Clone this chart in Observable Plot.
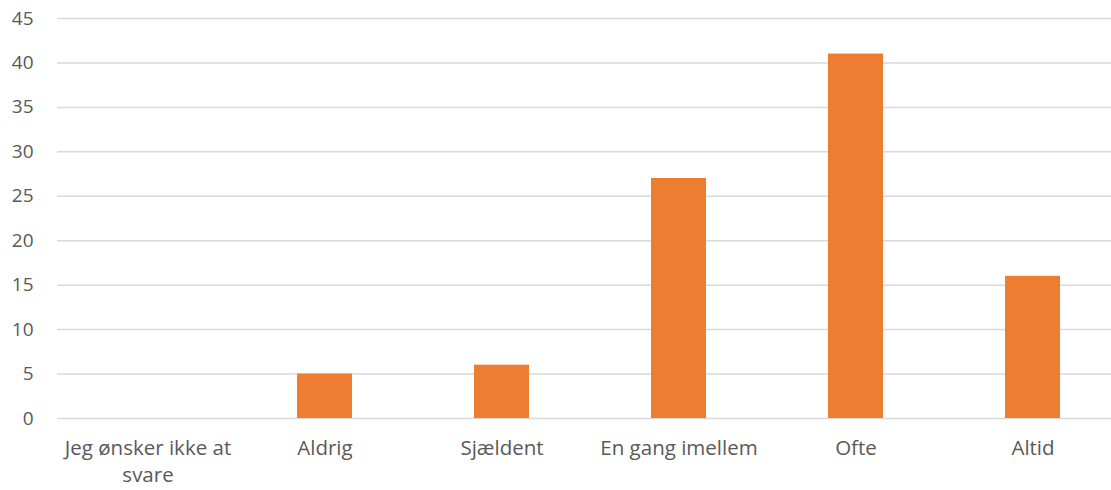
<!DOCTYPE html>
<html>
<head>
<meta charset="utf-8">
<script src="https://cdn.jsdelivr.net/npm/d3@7"></script>
<script src="https://cdn.jsdelivr.net/npm/@observablehq/plot@0.6"></script>
<style>
  html, body { margin: 0; padding: 0; background: #fff; overflow: hidden; }
  #chart svg { overflow: hidden; }
</style>
</head>
<body>
<div id="chart"></div>
<script>
const categories = ["Jeg ønsker ikke at svare", "Aldrig", "Sjældent", "En gang imellem", "Ofte", "Altid"];
const tickLabels = ["Jeg ønsker ikke at\nsvare", "Aldrig", "Sjældent", "En gang imellem", "Ofte", "Altid"];
const values = [0, 5, 6, 27, 41, 16];
const yTicks = [0, 5, 10, 15, 20, 25, 30, 35, 40, 45];

const data = categories.map((c, i) => ({category: c, value: values[i]}));
const labelOf = new Map(categories.map((c, i) => [c, tickLabels[i]]));

const chart = Plot.plot({
  width: 1111,
  height: 490,
  marginLeft: 57,
  marginRight: 0,
  marginTop: 18,
  marginBottom: 72,
  style: {fontFamily: "'Open Sans', sans-serif", fontSize: "19px", color: "#595959", background: "#fff"},
  x: {domain: categories, range: [58, 1122], paddingInner: 0.69, paddingOuter: 0.345, label: null},
  y: {domain: [0, 45], label: null},
  marks: [
    Plot.gridY(yTicks, {stroke: "#d9d9d9", strokeOpacity: 1, strokeWidth: 1.5}),
    Plot.barY(data, {x: "category", y: "value", fill: "#ED7D31"}),
    Plot.axisY(yTicks, {tickSize: 0, tickPadding: 24, fill: "#595959", fontSize: 19}),
    Plot.axisX({tickSize: 0, tickPadding: 17, fill: "#595959", fontSize: 20.5, lineHeight: 1.32, tickFormat: d => labelOf.get(d)})
  ]
});
document.getElementById("chart").appendChild(chart);
</script>
</body>
</html>
